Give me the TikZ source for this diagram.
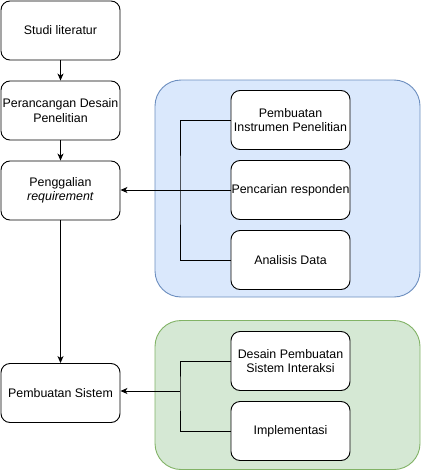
\documentclass[tikz,border=0pt]{standalone}
\usepackage{fontspec}
\setmainfont{Liberation Sans}
\usetikzlibrary{arrows.meta}
\definecolor{bluefill}{HTML}{DAE8FC}
\definecolor{bluedraw}{HTML}{6C8EBF}
\definecolor{greenfill}{HTML}{D5E8D4}
\definecolor{greendraw}{HTML}{82B366}
\begin{document}
\begin{tikzpicture}[x=1pt,y=-1pt,
  every node/.style={font=\fontsize{12.4}{14.5}\selectfont, align=center, inner sep=0pt},
  stepbox/.style={draw=black, fill=white, rounded corners=9pt, line width=0.9pt, minimum width=119pt, minimum height=59pt},
  group/.style={rounded corners=26pt, line width=0.9pt},
  conn/.style={line width=0.9pt, -{Stealth[length=7pt,width=6pt,inset=2pt]}},
  plain/.style={line width=0.9pt}]
\useasboundingbox (0,0) rectangle (421,471);
\fill[white] (0,0) rectangle (421,471);
% groups
\node[group, draw=bluedraw, fill=bluefill, minimum width=265pt, minimum height=217pt] (gblue) at (287.5,188.5) {};
\node[group, draw=greendraw, fill=greenfill, minimum width=265pt, minimum height=149pt] (ggreen) at (287.5,395) {};
% left column
\node[stepbox] (s1) at (60.5,30.5) {Studi literatur};
\node[stepbox] (s2) at (60.5,110.5) {Perancangan Desain\\Penelitian};
\node[stepbox] (s3) at (60.5,190.5) {Penggalian\\\textit{requirement}};
\node[stepbox] (s4) at (60.5,393) {Pembuatan Sistem};
% blue inner
\node[stepbox] (b1) at (290.5,120) {Pembuatan\\Instrumen Penelitian};
\node[stepbox] (b2) at (290.5,190) {Pencarian responden};
\node[stepbox] (b3) at (290.5,260) {Analisis Data};
% green inner
\node[stepbox] (g1) at (290.5,361) {Desain Pembuatan\\Sistem Interaksi};
\node[stepbox] (g2) at (290.5,431) {Implementasi};
% coordinates
\coordinate (bb) at (180,190);
\coordinate (gb) at (180,391);
% connectors
\draw[conn] (s1) -- (s2);
\draw[conn] (s2) -- (s3);
\draw[conn] (s3) -- (s4);
\draw[plain] (b1.west) -| (bb) |- (b3.west);
\draw[conn] (b2.west) -- (s3.east |- b2.west);
\draw[plain] (g1.west) -| (gb) |- (g2.west);
\draw[conn] (gb) -- (s4.east |- gb);
\end{tikzpicture}
\end{document}
